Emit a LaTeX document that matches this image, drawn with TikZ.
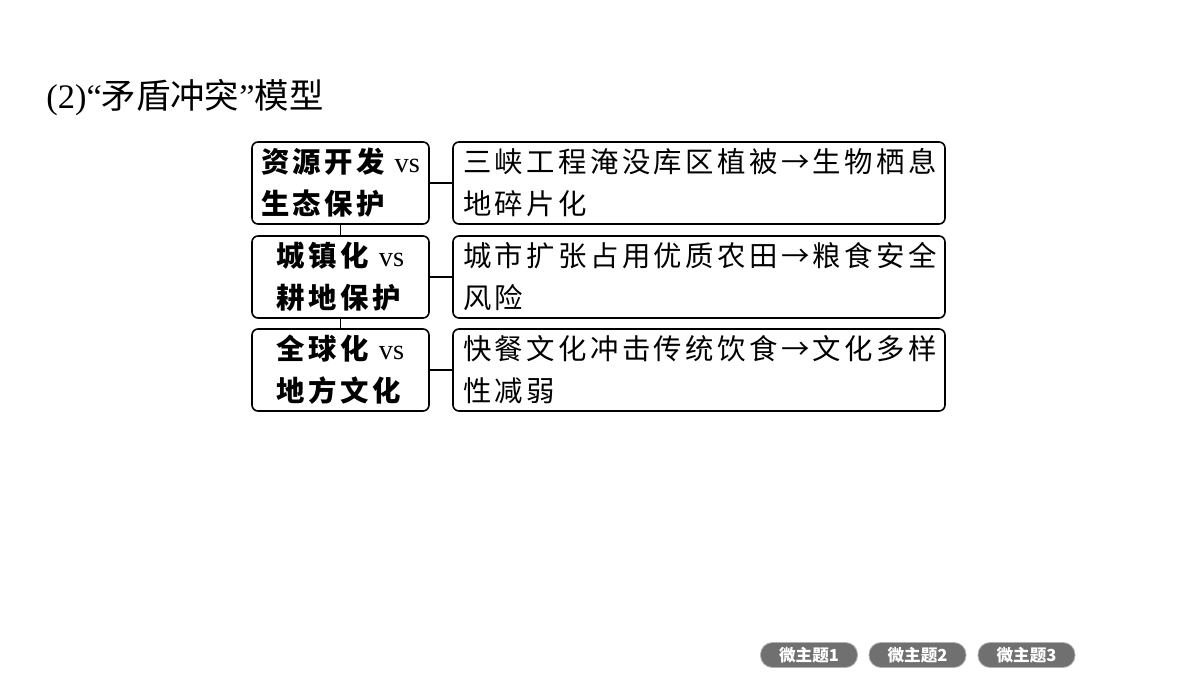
\documentclass[tikz,border=0pt]{standalone}
\usepackage{fontspec}
\setmainfont{Liberation Serif}
\newfontfamily\cjk[LetterSpace=12]{Noto Sans CJK SC}
\newfontfamily\cjkplain{Noto Sans CJK SC}
\newfontfamily\latn{Liberation Serif}
\newcommand{\vsword}{{\normalfont\latn\mdseries vs}}

\begin{document}
\begin{tikzpicture}[x=0.5pt,y=-0.5pt]
\tikzstyle{every node}=[font=\fontsize{14.2pt}{21pt}\selectfont\cjk]
\tikzstyle{leftbox}=[draw,line width=0.8pt,rounded corners=3pt,minimum width=88.5pt,
  minimum height=41pt,inner sep=0pt,align=left,font=\fontsize{14.2pt}{21pt}\selectfont\cjk\bfseries]
\tikzstyle{rightbox}=[draw,line width=0.8pt,rounded corners=3pt,minimum width=246pt,
  minimum height=41pt,inner sep=0pt,text width=236pt,align=left]
\tikzstyle{pill}=[fill=black!56,draw=black!30,line width=0.4pt,rounded corners=6pt,
  minimum width=48.5pt,minimum height=12.5pt,inner sep=0pt,text=white,
  font=\fontsize{8.3pt}{9pt}\selectfont\cjkplain\bfseries]

% Fix the page to the size of the slide
\useasboundingbox[fill=white] (0,0) rectangle (1200,675);

% Draw the heading
\node[anchor=west,inner sep=0pt,font=\fontsize{17.2pt}{20pt}\selectfont\latn] (title) at (46,98)
  {(2)“{\cjkplain 矛盾冲突}”{\cjkplain 模型}};

%
% Draw the left column of conflicts
%

\node[leftbox] (l1) at (340.5,183) {资源开发 \vsword\\生态保护};
\node[leftbox] (l2) at (340.5,277) {城镇化 \vsword\\耕地保护};
\node[leftbox] (l3) at (340.5,370) {全球化 \vsword\\地方文化};

%
% Draw the right column of consequences
%

\node[rightbox] (r1) at (699,183) {三峡工程淹没库区植被→生物栖息\\地碎片化};
\node[rightbox] (r2) at (699,277) {城市扩张占用优质农田→粮食安全\\风险};
\node[rightbox] (r3) at (699,370) {快餐文化冲击传统饮食→文化多样\\性减弱};

% Join the boxes
\draw[line width=0.6pt] (l1.east) -- (r1.west);
\draw[line width=0.6pt] (l2.east) -- (r2.west);
\draw[line width=0.6pt] (l3.east) -- (r3.west);
\draw[line width=0.6pt] (l1.south) -- (l2.north);
\draw[line width=0.6pt] (l2.south) -- (l3.north);

%
% Draw the buttons at the bottom
%

\node[pill] (b1) at (809,655) {微主题1};
\node[pill] (b2) at (917.5,655) {微主题2};
\node[pill] (b3) at (1026.5,655) {微主题3};

\end{tikzpicture}
\end{document}
